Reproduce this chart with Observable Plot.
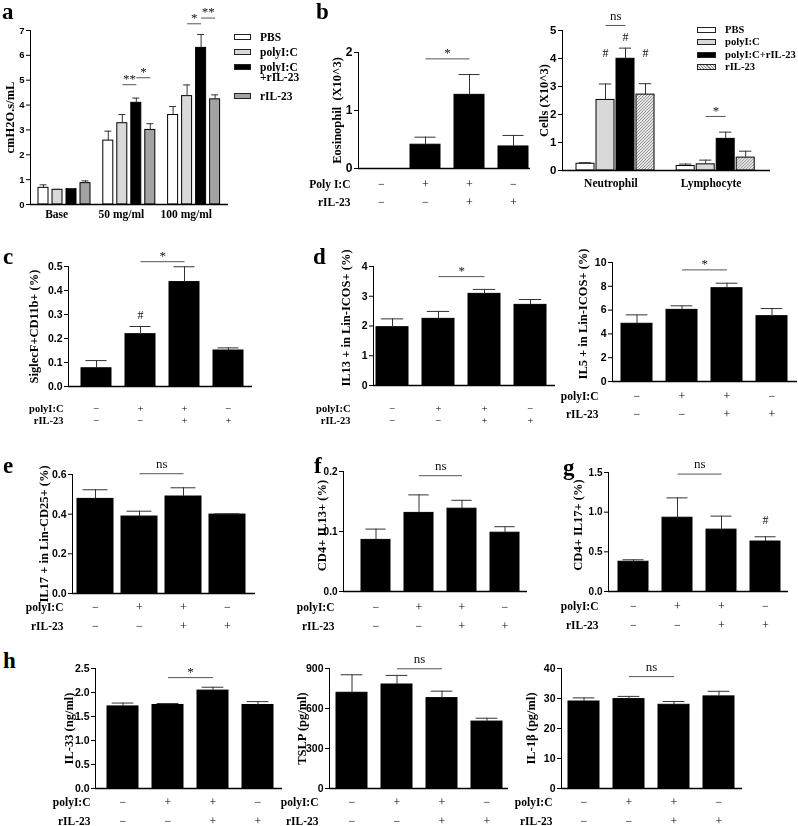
<!DOCTYPE html>
<html><head><meta charset="utf-8">
<script src="https://cdn.jsdelivr.net/npm/d3@7"></script>
<script src="https://cdn.jsdelivr.net/npm/@observablehq/plot@0.6"></script>
<style>
body{margin:0;background:#fff}
#fig{position:relative;width:798px;height:826px;overflow:hidden;background:#fff}
#fig svg{will-change:transform}
.letter{position:absolute;font-family:'Liberation Serif','Times New Roman',serif;font-weight:bold;font-size:23px;line-height:23px;color:#000}
.lg{position:absolute;font-family:'Liberation Serif','Times New Roman',serif;font-weight:bold;font-size:11.5px;line-height:10px;white-space:pre;color:#000}
.lg.small{font-size:10.6px}
.sw{position:absolute;box-sizing:border-box;border:1px solid #222}
</style></head>
<body><div id="fig"></div>
<script>
// ---------------- data ----------------
const conditions = ["PBS", "polyI:C", "polyI:C+rIL-23", "rIL-23"];
const polySigns = ["−", "+", "+", "−"];
const rilSigns = ["−", "−", "+", "+"];

// a: airway resistance
const aDoses = ["Base", "50 mg/ml", "100 mg/ml"];
const aPBS = [0.67, 2.57, 3.60],  aPBSErr = [0.12, 0.38, 0.34];
const aPoly = [0.59, 3.27, 4.36], aPolyErr = [0.02, 0.35, 0.45];
const aCombo = [0.62, 4.09, 6.30], aComboErr = [0.02, 0.19, 0.54];
const aRil = [0.86, 3.00, 4.23],  aRilErr = [0.09, 0.25, 0.18];
const aSig = [{g: 1, a: 1, b: 2, y: 4.82, t: "**"}, {g: 1, a: 2, b: 3, y: 5.10, t: "*"},
              {g: 2, a: 1, b: 2, y: 7.27, t: "*"}, {g: 2, a: 2, b: 3, y: 7.50, t: "**"}];

// b: eosinophils
const eosMean = [0, 0.41, 1.27, 0.38], eosErr = [0, 0.13, 0.35, 0.19];
// b: neutrophils / lymphocytes
const cellTypes = ["Neutrophil", "Lymphocyte"];
const cPBS = [0.24, 0.16],  cPBSErr = [0.04, 0.07];
const cPoly = [2.52, 0.22], cPolyErr = [0.57, 0.15];
const cCombo = [3.99, 1.13], cComboErr = [0.38, 0.24];
const cRil = [2.71, 0.46],  cRilErr = [0.39, 0.23];
const cSig = [{g: 0, a: 1, b: 2, y: 5.18, t: "ns"}, {g: 1, a: 1, b: 2, y: 1.93, t: "*"}];
const cHash = [{g: 0, s: 1, y: 4.18}, {g: 0, s: 2, y: 4.75}, {g: 0, s: 3, y: 4.18}];

// c..h
const siglecMean = [0.076, 0.218, 0.435, 0.150], siglecErr = [0.032, 0.032, 0.064, 0.011];
const il13IlcMean = [1.96, 2.24, 3.08, 2.71], il13IlcErr = [0.28, 0.25, 0.15, 0.18];
const il5IlcMean = [4.85, 6.02, 7.84, 5.49], il5IlcErr = [0.75, 0.34, 0.42, 0.64];
const il17IlcMean = [0.477, 0.388, 0.489, 0.398], il17IlcErr = [0.046, 0.027, 0.044, 0.004];
const cd4Il13Mean = [0.086, 0.131, 0.138, 0.098], cd4Il13Err = [0.018, 0.030, 0.014, 0.010];
const cd4Il17Mean = [0.375, 0.93, 0.78, 0.63], cd4Il17Err = [0.025, 0.25, 0.17, 0.06];
const il33Mean = [1.71, 1.74, 2.04, 1.74], il33Err = [0.07, 0.03, 0.07, 0.07];
const tslpMean = [718, 780, 678, 502], tslpErr = [135, 68, 52, 25];
const il1bMean = [29.0, 29.8, 27.9, 30.7], il1bErr = [1.2, 0.9, 1.1, 1.7];

// ---------------- drawing ----------------
const fig = document.getElementById("fig");
const SERIF = "'Liberation Serif','Times New Roman',serif";
const SANS = "'Liberation Sans',Arial,sans-serif";
const FILL = {"PBS": "#ffffff", "polyI:C": "#d9d9d9", "polyI:C+rIL-23": "#000000", "rIL-23": "#a3a3a3"};

function panel(p) {
  const ML = 75, MR = 10, MT = 45, MB = 55;
  const left = p.axisX - ML, top = p.yTop - MT;
  const width = p.R - p.axisX + ML + MR;
  const height = p.y0 - p.yTop + MT + MB;
  const gap = p.step - p.bw;
  const r0 = p.L0 - gap / 2 - left;
  const keys = p.rows.map(d => d.key);
  const cap = p.bw * 0.15;
  const marks = [];
  for (const r of p.rows) {
    if (r.v > 0) marks.push(Plot.barY([r], {x: "key", y: "v", fill: r.fill, stroke: "#000", strokeWidth: 1, dx: r.dx}));
    if (r.e > 0) {
      marks.push(Plot.ruleX([r], {x: "key", y1: "v", y2: d => d.v + d.e, stroke: "#333", strokeWidth: 1, dx: r.dx}));
      marks.push(Plot.tickY([r], {x: "key", y: d => d.v + d.e, stroke: "#333", strokeWidth: 1, insetLeft: cap, insetRight: cap, dx: r.dx}));
    }
  }
  marks.push(Plot.ruleY([0], {stroke: "#000", strokeWidth: 1.3}));
  for (const s of (p.sig || [])) {
    marks.push(Plot.link([s], {x1: "a", x2: "b", y1: "y", y2: "y", stroke: "#555", strokeWidth: 1, dx: s.dx || 0}));
    marks.push(Plot.text([s], {x: "a", y: "y", text: "t", dx: (s.dx || 0) + p.step / 2, dy: s.t === "ns" ? -10 : -6,
      fontFamily: SERIF, fontSize: 13, fontWeight: "normal", fill: "#111"}));
  }
  for (const h of (p.hash || [])) {
    marks.push(Plot.text([h], {x: "k", y: "y", text: () => "#", dx: h.dx || 0, fontFamily: SERIF, fontSize: 12, fontWeight: "normal", fill: "#111"}));
  }
  if (p.signs) {
    const dy0 = p.rowY[0] - p.y0 + 2, dy1 = p.rowY[1] - p.y0 + 2;
    const tight = (p.rowY[1] - p.rowY[0]) < 15;
    const fsSign = tight ? 10.5 : 12, fsLab = tight ? 10.5 : 11.5;
    marks.push(Plot.text(keys, {x: d => d, text: (d, i) => polySigns[i], frameAnchor: "bottom", dy: dy0,
      fontFamily: SERIF, fontSize: fsSign, fontWeight: "normal", fill: "#000"}));
    marks.push(Plot.text(keys, {x: d => d, text: (d, i) => rilSigns[i], frameAnchor: "bottom", dy: dy1,
      fontFamily: SERIF, fontSize: fsSign, fontWeight: "normal", fill: "#000"}));
    marks.push(Plot.text([p.rowNames[0]], {text: d => d, frameAnchor: "bottom-left", textAnchor: "end",
      dx: p.rowRight - p.axisX, dy: dy0, fontFamily: SERIF, fontSize: fsLab, fontWeight: "bold", fill: "#000"}));
    marks.push(Plot.text([p.rowNames[1]], {text: d => d, frameAnchor: "bottom-left", textAnchor: "end",
      dx: p.rowRight - p.axisX, dy: dy1, fontFamily: SERIF, fontSize: fsLab, fontWeight: "bold", fill: "#000"}));
  }
  if (p.groupLabels) {
    for (const gl of p.groupLabels) {
      marks.push(Plot.text([gl], {x: "k", text: "t", frameAnchor: "bottom", dx: gl.dx, dy: p.groupLabelY - p.y0 + 1,
        fontFamily: SERIF, fontSize: 11.5, fontWeight: "bold", fill: "#000"}));
    }
  }
  marks.push(Plot.text([p.ylabel], {text: d => d, frameAnchor: "left", rotate: -90, textAnchor: "middle",
    dx: p.ylabelX - p.axisX, dy: p.ylabelDy || 0, fontFamily: SERIF, fontSize: 12.5, fontWeight: "bold", fill: "#000"}));

  const svg = Plot.plot({
    width, height, marginLeft: ML, marginRight: MR, marginTop: MT, marginBottom: MB,
    x: {type: "band", domain: keys, range: [r0, r0 + keys.length * p.step], paddingInner: gap / p.step,
        paddingOuter: gap / p.step / 2, align: 0.5, axis: null},
    y: {domain: [0, p.ymax], ticks: p.ticks, tickFormat: p.fmt, tickSize: 4, tickPadding: 2, line: true, label: null},
    style: {background: "transparent", overflow: "visible", fontFamily: SANS, fontSize: (p.tickFont || 10.5) + "px",
            fontWeight: "bold", color: "#000"},
    marks
  });
  if (p.defs) p.defs(svg);
  svg.style.position = "absolute";
  svg.style.left = left + "px";
  svg.style.top = top + "px";
  svg.style.maxWidth = "none";
  fig.appendChild(svg);
}

function simpleRows(mean, err) {
  return conditions.map((c, i) => ({key: c, v: mean[i], e: err[i], fill: "#000", dx: 0}));
}
function sig12(y, t) { return [{a: conditions[1], b: conditions[2], y, t}]; }

// ---- a ----
{
  const series = [[aPBS, aPBSErr], [aPoly, aPolyErr], [aCombo, aComboErr], [aRil, aRilErr]];
  const gdx = 8.8, rows = [];
  aDoses.forEach((g, gi) => conditions.forEach((c, si) =>
    rows.push({key: g + "|" + c, v: series[si][0][gi], e: series[si][1][gi], fill: FILL[c], dx: gi * gdx})));
  panel({
    rows, axisX: 30, R: 228, yTop: 30, y0: 204, ymax: 7, ticks: d3.range(0, 8), fmt: d3.format("d"),
    L0: 36, bw: 10, step: 14.3,
    sig: aSig.map(s => ({a: aDoses[s.g] + "|" + conditions[s.a], b: aDoses[s.g] + "|" + conditions[s.b], y: s.y, t: s.t, dx: s.g * gdx})),
    groupLabels: aDoses.map((g, gi) => ({k: g + "|" + conditions[1], t: g, dx: gi * gdx + 14.3 / 2 - 8})),
    groupLabelY: 216, ylabel: "cmH2O.s/mL", ylabelX: 9, tickFont: 9.5
  });
}
// ---- b left ----
panel({
  rows: simpleRows(eosMean, eosErr), axisX: 358, R: 530, yTop: 52, y0: 168, ymax: 2, ticks: [0, 1, 2], fmt: d3.format("d"),
  L0: 366, bw: 30, step: 44, sig: sig12(1.89, "*"), signs: true, rowY: [185, 203], rowRight: 350,
  rowNames: ["Poly I:C", "rIL-23"], ylabel: "Eosinophil  (X10^3)", ylabelX: 336, tickFont: 12
});
// ---- b right ----
{
  const series = [[cPBS, cPBSErr], [cPoly, cPolyErr], [cCombo, cComboErr], [cRil, cRilErr]];
  const fills = ["#ffffff", "#d9d9d9", "#000000", "url(#hatchB)"];
  const gdx = 20.2, rows = [];
  cellTypes.forEach((g, gi) => conditions.forEach((c, si) =>
    rows.push({key: g + "|" + c, v: series[si][0][gi], e: series[si][1][gi], fill: fills[si], dx: gi * gdx})));
  panel({
    rows, axisX: 562, R: 770, yTop: 30, y0: 170, ymax: 5, ticks: d3.range(0, 6), fmt: d3.format("d"),
    L0: 573, bw: 19, step: 20.7,
    sig: cSig.map(s => ({a: cellTypes[s.g] + "|" + conditions[s.a], b: cellTypes[s.g] + "|" + conditions[s.b], y: s.y, t: s.t, dx: s.g * gdx})),
    hash: cHash.map(h => ({k: cellTypes[h.g] + "|" + conditions[h.s], y: h.y, dx: h.g * gdx})),
    groupLabels: cellTypes.map((g, gi) => ({k: g + "|" + conditions[1], t: g, dx: gi * gdx + 20.7 / 2 - 5})),
    groupLabelY: 185, ylabel: "Cells (X10^3)", ylabelX: 543, tickFont: 11.5,
    defs: svg => {
      const defs = d3.select(svg).insert("defs", ":first-child");
      const pat = defs.append("pattern").attr("id", "hatchB").attr("patternUnits", "userSpaceOnUse").attr("width", 3).attr("height", 3);
      pat.append("rect").attr("width", 3).attr("height", 3).attr("fill", "#e6e6e6");
      pat.append("path").attr("d", "M0,3L3,0").attr("stroke", "#8a8a8a").attr("stroke-width", 0.9);
    }
  });
}
// ---- c ----
panel({
  rows: simpleRows(siglecMean, siglecErr), axisX: 68, R: 252, yTop: 266, y0: 386, ymax: 0.5,
  ticks: [0, 0.1, 0.2, 0.3, 0.4, 0.5], fmt: d3.format(".1f"), L0: 80, bw: 30, step: 44.7,
  sig: sig12(0.52, "*"), hash: [{k: conditions[1], y: 0.296}],
  signs: true, rowY: [409, 421], rowRight: 63, rowNames: ["polyI:C", "rIL-23"],
  ylabel: "SiglecF+CD11b+ (%)", ylabelX: 33
});
// ---- d left ----
panel({
  rows: simpleRows(il13IlcMean, il13IlcErr), axisX: 373, R: 555, yTop: 266, y0: 385, ymax: 4,
  ticks: [0, 1, 2, 3, 4], fmt: d3.format("d"), L0: 375, bw: 32, step: 46.3,
  sig: sig12(3.66, "*"), signs: true, rowY: [409, 421], rowRight: 350, rowNames: ["polyI:C", "rIL-23"],
  ylabel: "IL13 + in Lin-ICOS+ (%)", ylabelX: 345, ylabelDy: -8
});
// ---- d right ----
panel({
  rows: simpleRows(il5IlcMean, il5IlcErr), axisX: 612, R: 797, yTop: 262, y0: 381, ymax: 10,
  ticks: [0, 2, 4, 6, 8, 10], fmt: d3.format("d"), L0: 620, bw: 31, step: 45.3,
  sig: sig12(9.38, "*"), signs: true, rowY: [397, 415], rowRight: 598, rowNames: ["polyI:C", "rIL-23"],
  ylabel: "IL5 + in Lin-ICOS+ (%)", ylabelX: 582, ylabelDy: -8
});
// ---- e ----
panel({
  rows: simpleRows(il17IlcMean, il17IlcErr), axisX: 72, R: 255, yTop: 474, y0: 593, ymax: 0.6,
  ticks: [0, 0.2, 0.4, 0.6], fmt: d3.format(".1f"), L0: 76, bw: 37, step: 44.7,
  sig: sig12(0.604, "ns"), signs: true, rowY: [608, 627], rowRight: 63, rowNames: ["polyI:C", "rIL-23"],
  ylabel: "IL17 + in Lin-CD25+ (%)", ylabelX: 43
});
// ---- f ----
panel({
  rows: simpleRows(cd4Il13Mean, cd4Il13Err), axisX: 343, R: 527, yTop: 471, y0: 591, ymax: 0.2,
  ticks: [0, 0.1, 0.2], fmt: d3.format(".1f"), L0: 360, bw: 29, step: 43.5,
  sig: sig12(0.193, "ns"), signs: true, rowY: [608, 627], rowRight: 334, rowNames: ["polyI:C", "rIL-23"],
  ylabel: "CD4+ IL13+ (%)", ylabelX: 321, ylabelDy: -6, tickFont: 10
});
// ---- g ----
panel({
  rows: simpleRows(cd4Il17Mean, cd4Il17Err), axisX: 608, R: 788, yTop: 472, y0: 591, ymax: 1.5,
  ticks: [0, 0.5, 1, 1.5], fmt: d3.format(".1f"), L0: 617, bw: 30, step: 44.7,
  sig: sig12(1.48, "ns"), hash: [{k: conditions[3], y: 0.9}],
  signs: true, rowY: [607, 626], rowRight: 598, rowNames: ["polyI:C", "rIL-23"],
  ylabel: "CD4+ IL17+ (%)", ylabelX: 577, ylabelDy: -7, tickFont: 10
});
// ---- h ----
panel({
  rows: simpleRows(il33Mean, il33Err), axisX: 95, R: 282, yTop: 668, y0: 788, ymax: 2.5,
  ticks: [0, 0.5, 1, 1.5, 2, 2.5], fmt: d3.format(".1f"), L0: 107, bw: 31, step: 45,
  sig: sig12(2.31, "*"), signs: true, rowY: [803, 822], rowRight: 90, rowNames: ["polyI:C", "rIL-23"],
  ylabel: "IL-33 (ng/ml)", ylabelX: 68
});
panel({
  rows: simpleRows(tslpMean, tslpErr), axisX: 329, R: 508, yTop: 668, y0: 788, ymax: 900,
  ticks: [0, 300, 600, 900], fmt: d3.format("d"), L0: 335, bw: 31, step: 45.3,
  sig: sig12(898, "ns"), signs: true, rowY: [803, 822], rowRight: 318, rowNames: ["polyI:C", "rIL-23"],
  ylabel: "TSLP (pg/ml)", ylabelX: 301
});
panel({
  rows: simpleRows(il1bMean, il1bErr), axisX: 561, R: 742, yTop: 668, y0: 788, ymax: 40,
  ticks: [0, 10, 20, 30, 40], fmt: d3.format("d"), L0: 568, bw: 31, step: 45,
  sig: sig12(37.3, "ns"), signs: true, rowY: [803, 822], rowRight: 552, rowNames: ["polyI:C", "rIL-23"],
  ylabel: "IL-1β (pg/ml)", ylabelX: 530
});

// ---- panel letters ----
[["a", 2, 18], ["b", 316, 18], ["c", 3, 263], ["d", 313, 263], ["e", 3, 472], ["f", 314, 472], ["g", 563, 474], ["h", 3, 667]]
  .forEach(([t, x, base]) => {
    const d = document.createElement("div");
    d.className = "letter"; d.textContent = t;
    d.style.left = x + "px"; d.style.top = (base - 18) + "px";
    fig.appendChild(d);
  });

// ---- legends ----
function legend(items, swX, swW, swH, textX, cls) {
  for (const it of items) {
    const s = document.createElement("div");
    s.className = "sw";
    s.style.left = swX + "px"; s.style.top = (it.y - swH / 2) + "px";
    s.style.width = swW + "px"; s.style.height = swH + "px";
    s.style.background = it.bg;
    fig.appendChild(s);
    const t = document.createElement("div");
    t.className = "lg" + (cls ? " " + cls : "");
    t.textContent = it.label;
    t.style.left = textX + "px"; t.style.top = (it.y - 5) + "px";
    fig.appendChild(t);
  }
}
legend([
  {y: 37, bg: FILL["PBS"], label: "PBS"},
  {y: 52, bg: FILL["polyI:C"], label: "polyI:C"},
  {y: 67, bg: FILL["polyI:C+rIL-23"], label: "polyI:C\n+rIL-23"},
  {y: 96, bg: FILL["rIL-23"], label: "rIL-23"}
], 234, 17, 6, 260);
legend([
  {y: 30, bg: "#fff", label: "PBS"},
  {y: 42, bg: "#d9d9d9", label: "polyI:C"},
  {y: 55, bg: "#000", label: "polyI:C+rIL-23"},
  {y: 67, bg: "repeating-linear-gradient(45deg,#e6e6e6 0 1.5px,#8a8a8a 1.5px 2.3px)", label: "rIL-23"}
], 697, 19, 6, 725, "small");
</script></body></html>
